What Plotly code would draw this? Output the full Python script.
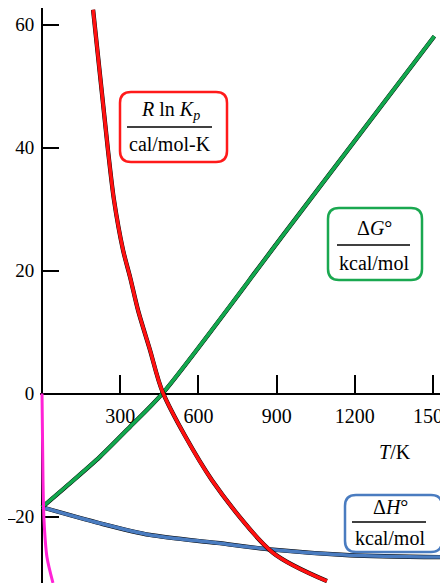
import plotly.graph_objects as go

# ---- data ----
red_T = [196, 253, 276, 311, 338, 368, 414, 464, 652, 886, 1093]
red_v = [62.4, 39.6, 31.5, 23.3, 18.9, 13.6, 7.1, 0.1, -14.1, -25.9, -30.5]

green_T = [0, 107, 222, 338, 464, 940, 1505]
green_v = [-18.5, -14.6, -10.3, -5.4, 0.1, 26.6, 58.1]

blue_T = [0, 222, 414, 671, 886, 1181, 1527]
blue_v = [-18.5, -21.1, -23.0, -24.3, -25.4, -26.3, -26.6]

magenta_T = [0, 3.8, 7.7, 19, 42]
magenta_v = [0, -14.0, -20.6, -26.6, -30.8]

x_ticks = [300, 600, 900, 1200, 1500]
y_ticks = [60, 40, 20, 0, -20]
y_ticktext = ["60", "40", "20", "0", "<span style='font-size:16px'>–</span>20"]

# ---- layout geometry (page pixels; page body has an 8px margin) ----
OFF = 8
W, H = 440, 575
X0PX, XS = 42, 0.2607      # page pixel of T=0, px per K
Y0PX, YS = 393.5, 6.15     # page pixel of value 0, px per unit
xmin = -8
xmax = (443 - X0PX) / XS
ymax = (Y0PX - OFF) / YS
ymin = (Y0PX - (H + OFF)) / YS
dom0 = (X0PX + xmin * XS - OFF) / W
dom1 = (443 - OFF) / W

def px(x):
    return (x - OFF) / W

def py(y):
    return 1 - (y - OFF) / H

FONT = "Liberation Serif, Times New Roman, serif"

fig = go.Figure()

def add_curve(T, v, color, width, shadow=True):
    if shadow:
        fig.add_trace(go.Scatter(x=T, y=v, mode="lines",
                                 line=dict(color="black", width=width + 0.8, shape="spline", smoothing=0.8),
                                 hoverinfo="skip", showlegend=False))
    fig.add_trace(go.Scatter(x=T, y=v, mode="lines",
                             line=dict(color=color, width=width, shape="spline", smoothing=0.8),
                             showlegend=False))

add_curve(blue_T, blue_v, "#4a7cc0", 3.5)
add_curve(green_T, green_v, "#12a84e", 3.5)
add_curve(red_T, red_v, "#ff1010", 3.5)
add_curve(magenta_T, magenta_v, "#ff22d6", 3.0, shadow=False)

def rounded_box(x0, y0, x1, y1, r, color):
    def P(x, y):
        return f"{px(x):.5f},{py(y):.5f}"
    path = (f"M {P(x0 + r, y0)} L {P(x1 - r, y0)} Q {P(x1, y0)} {P(x1, y0 + r)} "
            f"L {P(x1, y1 - r)} Q {P(x1, y1)} {P(x1 - r, y1)} "
            f"L {P(x0 + r, y1)} Q {P(x0, y1)} {P(x0, y1 - r)} "
            f"L {P(x0, y0 + r)} Q {P(x0, y0)} {P(x0 + r, y0)} Z")
    fig.add_shape(type="path", path=path, xref="paper", yref="paper",
                  line=dict(color=color, width=2.5), fillcolor="white", layer="above")

def frac_label(box, color, num, den, cx, ynum, yline, xl0, xl1, yden):
    rounded_box(*box, 11, color)
    fig.add_shape(type="line", xref="paper", yref="paper",
                  x0=px(xl0), x1=px(xl1), y0=py(yline), y1=py(yline),
                  line=dict(color="black", width=1.5), layer="above")
    fig.add_annotation(x=px(cx), y=py(ynum), xref="paper", yref="paper", text=num,
                       showarrow=False, xanchor="center", yanchor="middle",
                       font=dict(family=FONT, size=20, color="black"))
    fig.add_annotation(x=px(cx), y=py(yden), xref="paper", yref="paper", text=den,
                       showarrow=False, xanchor="center", yanchor="middle",
                       font=dict(family=FONT, size=20, color="black"))

frac_label((120, 92, 227, 162), "#ff1a1a", "<i>R</i> ln <i>K</i><sub><i>p</i></sub>", "cal/mol-K",
           170, 110, 127, 127, 212, 144)
frac_label((328, 208, 422, 280), "#1aa850", "Δ<i>G</i>°", "kcal/mol",
           374, 228, 245, 337, 410, 263)
frac_label((345, 495, 442, 552), "#4a7cc0", "Δ<i>H</i>°", "kcal/mol",
           390, 507, 522, 352, 426, 538)

fig.add_annotation(x=px(395), y=py(452), xref="paper", yref="paper", text="<i>T</i>/K",
                   showarrow=False, xanchor="center", yanchor="middle",
                   font=dict(family=FONT, size=20, color="black"))

fig.update_layout(
    width=W, height=H,
    margin=dict(l=0, r=0, t=0, b=0),
    paper_bgcolor="white", plot_bgcolor="white",
    showlegend=False,
    xaxis=dict(range=[xmin, xmax], domain=[dom0, dom1], anchor="free", position=py(Y0PX),
               showline=True, linecolor="black", linewidth=2, layer="below traces",
               tickvals=x_ticks, ticks="inside", ticklen=18, tickwidth=2, tickcolor="black",
               ticklabelstandoff=4, ticklabeloverflow="allow",
               tickfont=dict(family=FONT, size=20, color="black"),
               showgrid=False, zeroline=False, automargin=False, fixedrange=True),
    yaxis=dict(range=[ymin, ymax], domain=[0, 1], anchor="free", position=px(X0PX),
               showline=True, linecolor="black", linewidth=2, layer="below traces",
               tickvals=y_ticks, ticktext=y_ticktext,
               ticks="inside", ticklen=16, tickwidth=2, tickcolor="black",
               ticklabelstandoff=3, ticklabeloverflow="allow",
               tickfont=dict(family=FONT, size=19, color="black"),
               showgrid=False, zeroline=False, automargin=False, fixedrange=True),
)

fig.write_html("out.html")
